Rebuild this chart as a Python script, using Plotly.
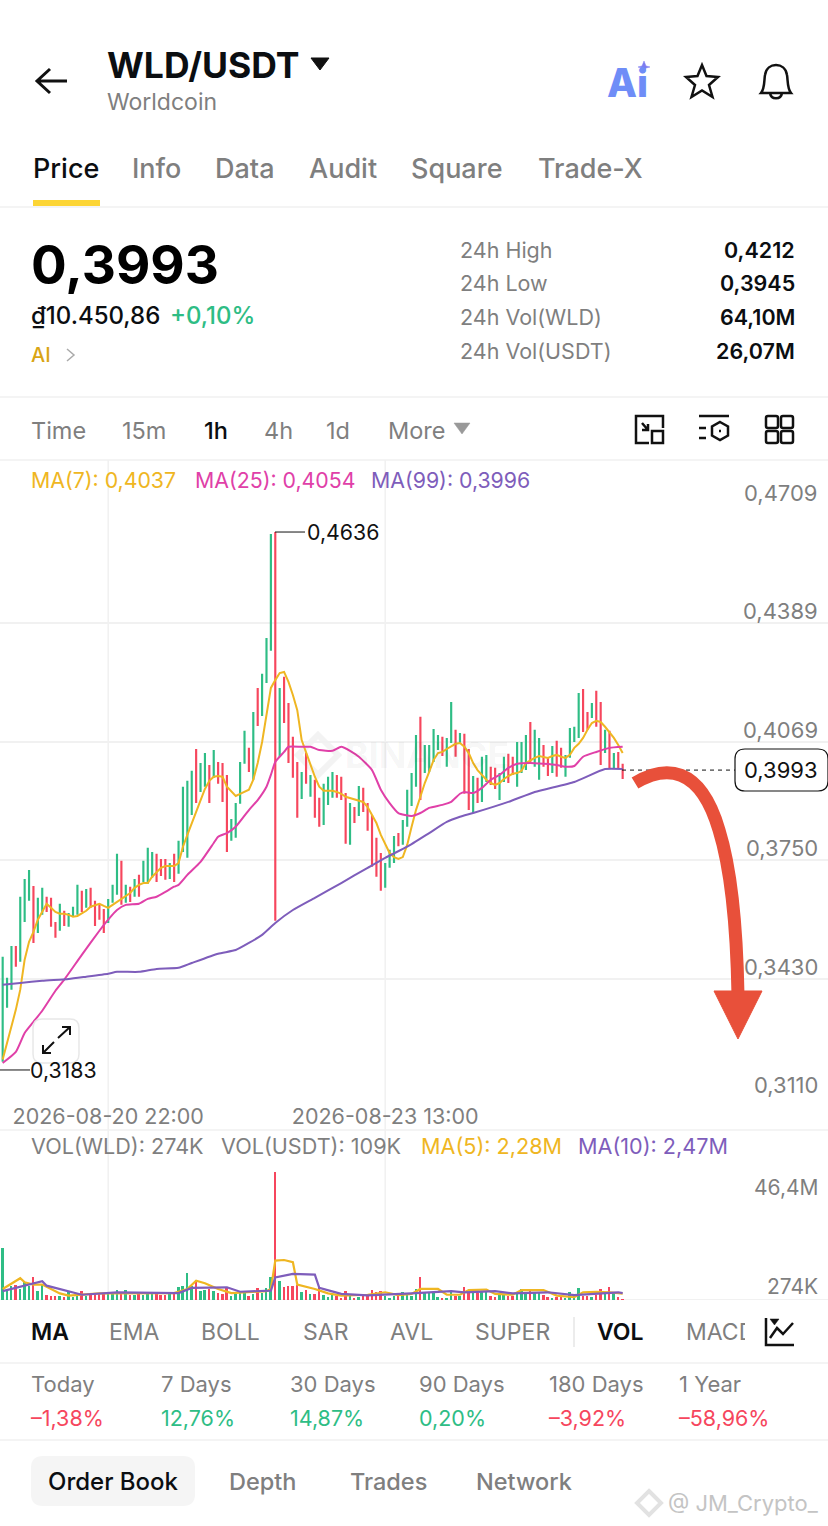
# WLD/USDT 1h screen from the exchange app
import re
import pandas as pd
import plotly.graph_objects as go

W = 828
H = 1526
FONT = 'Inter'

# Data
t0 = pd.Timestamp('2026-08-19 22:00')
opens = [.3205,.3351,.3400,.3518,.3475,.3583,.3640,.3680,.3553,.3602,
         .3651,.3648,.3583,.3559,.3613,.3570,.3597,.3602,.3667,.3621,
         .3675,.3640,.3632,.3618,.3580,.3635,.3656,.3748,.3635,.3678,
         .3651,.3710,.3691,.3686,.3702,.3767,.3753,.3753,.3699,.3767,
         .3713,.3772,.3756,.3872,.4050,.3934,.3948,.4007,.3972,.4015,
         .4012,.3980,.3802,.3810,.3902,.4010,.4053,.3967,.4215,.4139,
         .4228,.4315,.4636,.4029,.4245,.4174,.4083,.4015,.3915,.4039,
         .3921,.3967,.3918,.3845,.3899,.3918,.3980,.3975,.3931,.3791,
         .3893,.3869,.3945,.3904,.3872,.3810,.3769,.3675,.3729,.3742,
         .3823,.3791,.3840,.3896,.3948,.4137,.3985,.3988,.4015,.4047,
         .4083,.4002,.4066,.4102,.4066,.4091,.4050,.3877,.3972,.3907,
         .3961,.4002,.3999,.3912,.3961,.4037,.4029,.3948,.3985,.3993,
         .4123,.4002,.3967,.4061,.4026,.3985,.4072,.4053,.3975,.4026,
         .4069,.4080,.4212,.4150,.4134,.4207,.4177,.4039,.4099,.3996,.4042,.4010]
closes = [.3489,.3432,.3518,.3462,.3651,.3699,.3723,.3526,.3648,.3675,
          .3610,.3570,.3540,.3632,.3572,.3607,.3624,.3683,.3610,.3672,
          .3621,.3572,.3589,.3553,.3645,.3683,.3767,.3629,.3683,.3637,
          .3699,.3651,.3748,.3783,.3772,.3691,.3707,.3697,.3742,.3691,
          .3802,.3948,.3964,.3991,.3904,.4012,.4039,.3904,.4047,.3956,
          .3907,.3772,.3861,.3904,.4015,.4099,.3988,.4150,.4112,.4253,
          .4350,.4631,.3586,.4215,.4120,.4012,.3972,.3864,.3988,.3956,
          .3980,.3864,.3840,.3956,.3975,.3988,.3918,.3912,.3794,.3904,
          .3850,.3950,.3880,.3829,.3732,.3705,.3667,.3742,.3778,.3815,
          .3787,.3858,.3940,.3985,.4088,.3912,.4061,.4061,.4104,.4088,
          .4031,.4080,.4177,.4029,.4093,.3929,.3885,.3977,.3904,.4029,
          .4034,.3953,.3942,.3985,.4029,.3958,.3980,.4069,.4069,.4088,
          .4015,.4102,.4080,.4002,.3977,.4058,.3975,.3999,.4034,.4107,
          .4110,.4201,.4096,.4102,.4174,.4110,.4007,.4102,.3996,.4039,.3996,.3969]
volumes = [18.9,3.6,5.2,5.6,4.0,6.7,5.2,8.2,3.4,5.6,
           1.9,1.5,1.6,1.3,1.0,2.8,1.2,1.6,3.4,1.6,
           2.2,2.2,2.2,2.2,2.2,2.2,3.8,3.0,3.6,1.9,
           1.8,2.2,1.9,2.2,2.4,2.4,1.7,1.9,2.2,2.2,
           4.6,5.1,9.8,5.2,7.3,3.4,3.6,4.0,3.4,2.4,
           2.2,4.2,1.6,2.2,2.4,2.8,1.6,2.2,4.4,2.4,
           4.4,8.2,46.4,7.0,4.8,5.0,5.1,5.6,2.8,3.6,
           2.2,2.2,4.4,1.9,1.2,1.9,1.6,0.7,3.4,1.5,
           0.5,1.2,1.6,1.6,3.6,2.8,3.4,1.6,0.7,1.6,
           1.9,2.9,1.7,1.3,4.0,8.5,2.8,2.4,2.4,1.2,
           0.7,0.7,3.2,1.6,1.6,4.8,2.4,2.4,2.4,2.8,
           2.8,1.6,1.0,1.9,1.9,1.6,1.6,2.4,4.0,2.4,
           4.1,2.8,2.4,1.9,1.2,0.7,1.0,1.2,0.7,3.0,
           1.6,4.4,1.6,1.6,1.2,1.9,4.0,2.2,4.8,2.4,1.0,0.274]
ma7 = [.3211,.3256,.3297,.3346,.3400,.3481,.3529,.3556,.3589,.3610,
       .3632,.3621,.3610,.3605,.3605,.3602,.3597,.3599,.3605,.3613,
       .3624,.3629,.3632,.3626,.3621,.3629,.3637,.3643,.3651,.3661,
       .3675,.3683,.3688,.3688,.3705,.3718,.3729,.3734,.3734,.3734,
       .3742,.3786,.3818,.3850,.3883,.3912,.3942,.3964,.3975,.3977,
       .3975,.3948,.3934,.3923,.3929,.3934,.3940,.3967,.4012,.4069,
       .4137,.4215,.4236,.4255,.4258,.4231,.4196,.4155,.4074,.4039,
       .4007,.3975,.3948,.3937,.3937,.3937,.3934,.3929,.3921,.3918,
       .3915,.3912,.3907,.3893,.3872,.3850,.3818,.3791,.3769,.3758,
       .3753,.3758,.3791,.3840,.3885,.3921,.3958,.3988,.4020,.4039,
       .4042,.4050,.4058,.4064,.4066,.4056,.4039,.4012,.3993,.3980,
       .3967,.3958,.3953,.3958,.3969,.3977,.3983,.3985,.3991,.4012,
       .4020,.4026,.4031,.4029,.4026,.4031,.4034,.4029,.4026,.4034,
       .4053,.4064,.4080,.4102,.4120,.4126,.4123,.4110,.4096,.4080,.4061,.4039]
ma25_idx = [0,3,5,7,9,12,14,18,22,24,26,28,31,33,35,37,39,40,42,45,48,49,51,53,56,58,60,61,62,64,65,68,70,72,75,77,79,81,84,86,88,90,93,95,97,100,102,104,105,107,109,111,113,115,117,120,123,126,128,130,132,135,138,141]
ma25 = [.3202,.3232,.3283,.3313,.3343,.3397,.3427,.3494,.3559,.3589,.3615,.3629,.3632,.3645,.3651,.3664,
        .3678,.3683,.3710,.3745,.3796,.3813,.3823,.3840,.3885,.3912,.3948,.3980,.4015,.4042,.4056,.4056,
        .4056,.4047,.4045,.4056,.4045,.4029,.3993,.3940,.3904,.3877,.3869,.3877,.3891,.3899,.3907,.3929,
        .3934,.3931,.3945,.3967,.3980,.3999,.4010,.4012,.4010,.4007,.4002,.4004,.4029,.4042,.4053,.4056]
ma99_idx = [0,4,9,15,19,24,26,31,35,40,43,49,53,56,59,62,66,71,77,83,87,92,97,101,104,107,115,121,130,137,141]
ma99 = [.3413,.3418,.3424,.3429,.3435,.3443,.3448,.3448,.3456,.3459,.3472,.3497,.3507,.3526,.3548,.3580,
        .3615,.3648,.3688,.3729,.3756,.3786,.3823,.3853,.3867,.3877,.3907,.3934,.3961,.3996,.3996]
vol_ma5_idx = [0,4,5,7,9,10,13,15,18,22,26,39,42,44,46,49,52,60,61,62,64,66,67,71,74,77,83,87,90,93,95,99,101,104,106,110,112,116,118,123,126,130,132,135,138,141]
vol_ma5 = [4.0,7.9,6.4,5.6,5.6,4.8,2.4,1.6,1.9,2.4,2.4,2.5,4.0,7.0,6.1,4.0,2.5,3.2,4.0,14.3,14.5,13.7,5.6,
           4.0,2.4,1.6,1.9,2.8,1.8,2.2,4.0,4.0,1.9,1.9,3.6,3.8,2.2,1.9,3.6,3.6,1.6,1.0,2.8,3.0,2.8,2.28]
vol_ma10_idx = [0,3,7,9,10,18,26,40,43,51,54,61,62,66,71,72,77,83,93,102,105,112,116,124,130,135,140,141]
vol_ma10 = [3.2,4.4,5.8,6.8,5.2,1.9,2.8,2.5,4.4,4.6,3.0,3.4,8.2,9.5,9.2,4.4,2.2,1.7,2.4,3.2,2.8,3.2,2.4,2.8,1.8,2.2,2.8,2.47]

price_ticks = [.4709,.4389,.4069,.3750,.3430,.3110]
time_ticks = ['2026-08-20 22:00','2026-08-23 13:00']
vol_labels = ['46,4M','274K']
vol_label_vals = [46.4,0.274]
last_price = .3993
high_mark = .4636
low_mark = .3183

GREEN = '#2EBD85'
RED = '#F6465D'
GOLD = '#EFB622'
PINK = '#E040A8'
PURPLE = '#7E5DBB'
GRAY = '#7f7f7f'
LINE = '#f1f1f1'


def hours(idx):
    return [t0 + pd.Timedelta(hours=i) for i in idx]


times = hours(range(len(opens)))
highs = [max(a, b) for a, b in zip(opens, closes)]
lows = [min(a, b) for a, b in zip(opens, closes)]
vol_colors = [GREEN if c >= o else RED for o, c in zip(opens, closes)]

fig = go.Figure()
fig.add_trace(go.Candlestick(x=times, open=opens, high=highs, low=lows, close=closes,
                             whiskerwidth=0,
                             increasing=dict(line=dict(color=GREEN, width=0), fillcolor=GREEN),
                             decreasing=dict(line=dict(color=RED, width=0), fillcolor=RED)))
fig.add_trace(go.Scatter(x=times, y=ma7, mode='lines', line=dict(color=GOLD, width=2)))
fig.add_trace(go.Scatter(x=hours(ma25_idx), y=ma25, mode='lines', line=dict(color=PINK, width=2, shape='spline', smoothing=0.5)))
fig.add_trace(go.Scatter(x=hours(ma99_idx), y=ma99, mode='lines', line=dict(color=PURPLE, width=2, shape='spline', smoothing=0.5)))
fig.add_trace(go.Bar(x=times, y=volumes, marker=dict(color=vol_colors, line_width=0), width=3600000 * 0.45,
                     xaxis='x2', yaxis='y2'))
fig.add_trace(go.Scatter(x=hours(vol_ma5_idx), y=vol_ma5, mode='lines', line=dict(color=GOLD, width=2.2), xaxis='x2', yaxis='y2'))
fig.add_trace(go.Scatter(x=hours(vol_ma10_idx), y=vol_ma10, mode='lines', line=dict(color=PURPLE, width=2.2), xaxis='x2', yaxis='y2'))


def px(x):
    return x / W


def py(y):
    return 1 - y / H


def pth(d):
    # path written in screen pixels -> paper fractions
    return re.sub(r'(-?[\d.]+),(-?[\d.]+)',
                  lambda m: '%.5f,%.5f' % (px(float(m.group(1))), py(float(m.group(2)))), d)


def rrect(x0, y0, x1, y1, r):
    return pth(f'M {x0+r},{y0} L {x1-r},{y0} Q {x1},{y0} {x1},{y0+r} L {x1},{y1-r} Q {x1},{y1} {x1-r},{y1} '
               f'L {x0+r},{y1} Q {x0},{y1} {x0},{y1-r} L {x0},{y0+r} Q {x0},{y0} {x0+r},{y0} Z')


shapes = []


def icon(d, width=2.5, color='#111111', fill=None, layer='above'):
    shapes.append(dict(type='path', path=pth(d), xref='paper', yref='paper', layer=layer,
                       line=dict(color=color, width=width), fillcolor=fill))


def hline(y, color=LINE, width=1.5, x0=0, x1=W):
    shapes.append(dict(type='line', xref='paper', yref='paper', x0=px(x0), x1=px(x1), y0=py(y), y1=py(y),
                       line=dict(color=color, width=width), layer='below'))


annotations = []


def label(text, x, y, size=22, color=GRAY, anchor='left', weight=400, bg=None):
    annotations.append(dict(text=text, x=px(x), y=py(y), xref='paper', yref='paper', showarrow=False,
                            xanchor=anchor, yanchor='middle', align=anchor, bgcolor=bg, borderpad=0, borderwidth=0,
                            font=dict(family=FONT, size=size, color=color, weight=weight)))


def axis_label(text, x, yval, yref, shift, size=21, color=GRAY, anchor='right'):
    annotations.append(dict(text=text, x=px(x), xref='paper', y=yval, yref=yref, yshift=shift, xanchor=anchor,
                            showarrow=False, borderpad=0, borderwidth=0,
                            font=dict(family=FONT, size=size, color=color)))


# separators and yellow tab mark
for yy in [207, 397, 460, 1130, 1363, 1440]:
    hline(yy)
hline(1299.5, width=1)
hline(203, color='#FCD535', width=6, x0=33, x1=100)

# vertical grid runs through both panes
for tt in time_ticks:
    shapes.append(dict(type='line', xref='x', yref='paper', x0=tt, x1=tt, y0=py(460), y1=py(1300),
                       line=dict(color=LINE, width=1.5), layer='below'))

# header
label('WLD/USDT', 107, 65, 35.5, '#0b0e11', weight=700)
label('Worldcoin', 107, 102, 23)
icon('M 37,81 L 67,81 M 50,69 L 37,81 L 50,93', 3)
icon('M 311,58 L 329,58 L 320,70 Z', 1, fill='#111111')
label('Ai', 607, 83, 39, '#6F8DF7', weight=800)
icon('M 644,61 L 646,66 L 650,67 L 646,68 L 644,73 L 642,68 L 638,67 L 642,66 Z', 0.5, '#7C7CF0', '#7C7CF0')
icon('M 702,65 L 706.5,76 L 718,77 L 709,85 L 712.5,97 L 702,90.5 L 691.5,97 L 695,85 L 686,77 L 697.5,76 Z')
icon('M 761,93 C 765,88 764,80 765,75 C 766,68 771,65 776,65 C 781,65 786,68 787,75 C 788,80 787,88 791,93 Z '
     'M 770,93 C 771,100 781,100 782,93')

# tabs
for name, xx, col in [('Price', 33, '#0b0e11'), ('Info', 132, GRAY), ('Data', 215, GRAY),
                      ('Audit', 309, GRAY), ('Square', 411, GRAY), ('Trade-X', 538, GRAY)]:
    label(name, xx, 168, 27, col, weight=500)

# price block
label('0,3993', 31, 265, 53, '#000000', weight=700)
label('₫10.450,86', 31, 315, 24, '#0b0e11', weight=500)
label('+0,10%', 170, 315, 24, GREEN, weight=500)
label('AI', 31, 355, 20, '#D9A514', weight=500)
icon('M 67,349 L 74,355 L 67,361', 1.5, '#aaaaaa')
for name, val, yy in [('24h High', '0,4212', 250), ('24h Low', '0,3945', 283),
                      ('24h Vol(WLD)', '64,10M', 317), ('24h Vol(USDT)', '26,07M', 351)]:
    label(name, 460, yy, 21.5)
    label(val, 795, yy, 21.5, '#0b0e11', anchor='right', weight=600)

# interval row
for name, xx, col in [('Time', 31, GRAY), ('15m', 122, GRAY), ('1h', 204, '#0b0e11'), ('4h', 264, GRAY),
                      ('1d', 326, GRAY), ('More', 388, GRAY)]:
    label(name, xx, 430, 23.5, col, weight=500 if name == '1h' else 400)
icon('M 454,423 L 470,423 L 462,434 Z', 0.5, '#999999', '#999999')
icon('M 649,443 L 636,443 L 636,416 L 663,416 L 663,428 M 652,431 L 663,431 L 663,443 L 652,443 Z '
     'M 642,423 L 648,430 M 648,424 L 648,430 L 642,430')
icon('M 699,416 L 729,416 M 699,428 L 706,428 M 699,438 L 706,438 '
     'M 720,422 L 728,426.5 L 728,435.5 L 720,440 L 712,435.5 L 712,426.5 Z M 719,431 L 721,431')
for x0, y0 in [(766, 416), (781, 416), (766, 431), (781, 431)]:
    shapes.append(dict(type='path', path=rrect(x0, y0, x0 + 12, y0 + 12, 2), xref='paper', yref='paper',
                       line=dict(color='#111111', width=2.5)))

# legends over the panes
label('MA(7): 0,4037', 31, 480, 21.3, GOLD)
label('MA(25): 0,4054', 195, 480, 21.3, PINK)
label('MA(99): 0,3996', 371, 480, 21.3, PURPLE)
label('VOL(WLD): 274K', 31, 1146, 21.6)
label('VOL(USDT): 109K', 221, 1146, 21.6)
label('MA(5): 2,28M', 421, 1146, 21.6, GOLD)
label('MA(10): 2,47M', 578, 1146, 21.6, PURPLE)

# price axis labels sit just above their grid lines
for val in price_ticks:
    axis_label(('%.4f' % val).replace('.', ','), 818, val, 'y', 12, size=22)

# faint chart watermark
icon('M 318,735 L 338,755 L 318,775 L 298,755 Z', 6, '#f3f3f3', None, layer='below')
label('BINANCE', 345, 755, 36, 'rgba(0,0,0,0.05)', weight=700)

# high / low markers and last price
shapes.append(dict(type='line', xref='paper', yref='y', x0=px(275), x1=px(305), y0=high_mark, y1=high_mark, line=dict(color='#111111', width=1)))
shapes.append(dict(type='line', xref='paper', yref='y', x0=0, x1=px(30), y0=low_mark, y1=low_mark, line=dict(color='#111111', width=1)))
axis_label('0,4636', 307, high_mark, 'y', 0, size=21.3, color='#111111', anchor='left')
axis_label('0,3183', 30, low_mark, 'y', 0, size=21.3, color='#111111', anchor='left')
shapes.append(dict(type='line', xref='paper', yref='y', x0=px(622), x1=px(735), y0=last_price, y1=last_price, line=dict(color='#111111', width=1, dash='4px,4px')))
shapes.append(dict(type='path', path=rrect(735, 749, 828, 791, 10), xref='paper', yref='paper', fillcolor='white', line=dict(color='#111111', width=1.2)))
axis_label('0,3993', 781, last_price, 'y', 0, size=22, color='#111111', anchor='center')

# red arrow drawn on the screenshot
icon('M 635,783 C 665,765 700,765 719,830 C 733,875 737,940 738,995', 13, '#E8503A')
icon('M 714,991 L 762,991 L 738,1039 Z', 1, '#E8503A', '#E8503A')

# expand button
shapes.append(dict(type='path', path=rrect(33, 1019, 79, 1063, 9), xref='paper', yref='paper',
                   fillcolor='rgba(255,255,255,0.85)', line=dict(color='#e8e8e8', width=1.5)))
icon('M 58,1038 L 70,1027 M 62,1027 L 70,1027 L 70,1035 M 54,1042 L 43,1053 M 43,1045 L 43,1053 L 51,1053', 2)

# volume axis labels
axis_label(vol_labels[0], 818, vol_label_vals[0], 'y2', -15)
axis_label(vol_labels[1], 818, vol_label_vals[1], 'y2', 13)

# indicator row
for name, xx, col, wt in [('MA', 31, '#0b0e11', 600), ('EMA', 109, GRAY, 400), ('BOLL', 201, GRAY, 400), ('SAR', 303, GRAY, 400),
                          ('AVL', 390, GRAY, 400), ('SUPER', 475, GRAY, 400), ('VOL', 597, '#0b0e11', 600), ('MACD', 686, GRAY, 400)]:
    label(name, xx, 1332, 23, col, weight=wt)
label('&nbsp;&nbsp;', 745, 1332, 28, bg='white')
shapes.append(dict(type='line', xref='paper', yref='paper', x0=px(574), x1=px(574), y0=py(1317), y1=py(1347), line=dict(color='#e6e6e6', width=1.5)))
icon('M 766,1318 L 766,1345 L 794,1345 M 770,1338 L 777,1328 L 783,1334 L 793,1323', 2.5)
icon('M 770,1319 L 779,1319 L 774.5,1325 Z', 0.5, '#111111', '#111111')

# period returns
for name, val, xx, col in [('Today', '–1,38%', 31, RED), ('7 Days', '12,76%', 161, GREEN), ('30 Days', '14,87%', 290, GREEN),
                           ('90 Days', '0,20%', 419, GREEN), ('180 Days', '–3,92%', 549, RED), ('1 Year', '–58,96%', 679, RED)]:
    label(name, xx, 1384, 22)
    label(val, xx, 1418, 21.5, col)

# bottom tabs
shapes.append(dict(type='path', path=rrect(31, 1456, 195, 1506, 12), xref='paper', yref='paper', fillcolor='#f5f5f5', line=dict(width=0), layer='below'))
label('Order Book', 48, 1481, 24, '#0b0e11', weight=500)
label('Depth', 229, 1481, 23.5, GRAY, weight=500)
label('Trades', 350, 1481, 23.5, GRAY, weight=500)
label('Network', 476, 1481, 23.5, GRAY, weight=500)

# corner mark
icon('M 649,1491 L 661,1503 L 649,1515 L 637,1503 Z', 4, '#e2e2e2', None)
label('@ JM_Crypto_', 668, 1503, 22, '#c4c4c4')

x_range = [t0 - pd.Timedelta(hours=0.607), t0 + pd.Timedelta(hours=187.7)]
fig.update_layout(
    width=W, height=H, autosize=False, showlegend=False, bargap=0,
    margin=dict(l=0, r=0, t=0, b=0), paper_bgcolor='white', plot_bgcolor='rgba(0,0,0,0)',
    separators=',.', shapes=shapes, annotations=annotations,
    font=dict(family=FONT, color=GRAY),
    xaxis=dict(domain=[0, 1], range=x_range, type='date', anchor='y', rangeslider=dict(visible=False),
               tickmode='array', tickvals=time_ticks, ticktext=time_ticks, ticks='', showgrid=False, zeroline=False,
               showline=False, ticklabelstandoff=4, tickfont=dict(size=21.5, color=GRAY, family=FONT)),
    yaxis=dict(domain=[py(1097), py(505)], range=[price_ticks[-1], price_ticks[0]], side='right', anchor='x',
               tickmode='array', tickvals=price_ticks, showticklabels=False, ticks='',
               gridcolor=LINE, gridwidth=1.5, zeroline=False, showline=False),
    xaxis2=dict(domain=[0, 1], range=x_range, type='date', anchor='y2', matches='x', showticklabels=False, showgrid=False, zeroline=False),
    yaxis2=dict(domain=[py(1300), py(1131)], range=[0, 61.3], showticklabels=False, showgrid=False, zeroline=False, anchor='x2', side='right'),
)

fig.write_html('out.html', config={'displayModeBar': False}, post_script="document.body.style.margin='0';")
